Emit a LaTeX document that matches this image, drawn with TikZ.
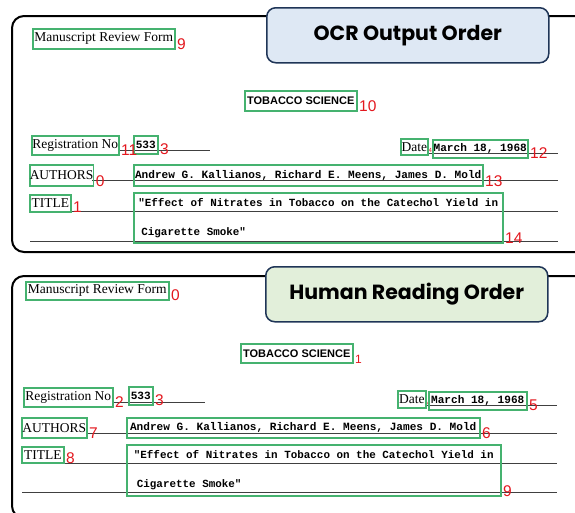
\documentclass[tikz,border=0pt]{standalone}
\usepackage{fontspec}
\setmainfont{Liberation Serif}
\newfontfamily\headfont{Poppins}
\newfontfamily\typefont{Liberation Mono}
\newfontfamily\numfont{Liberation Sans}
\usetikzlibrary{positioning}
\definecolor{boxgreen}{HTML}{45B26F}
\definecolor{numred}{HTML}{E3171E}
\definecolor{navy}{HTML}{1F3557}
\definecolor{headblue}{HTML}{DEE8F4}
\definecolor{headgreen}{HTML}{E2EFDA}

\begin{document}
\begin{tikzpicture}[x=1pt,y=-1pt,
    panel/.style = {draw, line width=2pt, rounded corners=12pt},
    header/.style = {draw=navy, line width=1.5pt, rounded corners=9pt, minimum width=282pt, minimum height=55pt, anchor=north west, font=\headfont\bfseries\fontsize{20.5}{24}\selectfont},
    field/.style = {draw=boxgreen, line width=1.5pt, inner sep=0pt, anchor=north west},
    serif/.style = {font=\fontsize{13.5}{15}\selectfont},
    typed/.style = {font=\typefont\bfseries\fontsize{11.1}{12}\selectfont},
    titled/.style = {align=left, font=\typefont\bfseries\fontsize{10.9}{29}\selectfont},
    journal/.style = {font=\numfont\bfseries\fontsize{11}{12}\selectfont},
    num/.style = {text=numred, inner sep=0pt, anchor=south west, xshift=1.5pt, font=\numfont\fontsize{15.5}{15}\selectfont},
    rule/.style = {draw=black!75, line width=0.8pt}]
\useasboundingbox (0,0) rectangle (575,512);
\begin{scope}
\clip (0,0) rectangle (575,512);
\draw[panel] (600,16) -- (12,16) -- (12,252) -- (600,252);
\draw[panel] (600,276) -- (12,276) -- (12,518) -- (600,518);

\draw[rule] (118,150) -- (210,150);
\draw[rule] (427,153) -- (558,153);
\draw[rule] (92,180) -- (558,180);
\draw[rule] (70,211) -- (558,211);
\draw[rule] (30,241) -- (558,241);

\draw[rule] (112,402) -- (205,402);
\draw[rule] (425,405) -- (557,405);
\draw[rule] (86,433) -- (557,433);
\draw[rule] (63,463) -- (557,463);
\draw[rule] (22,492) -- (557,492);

\node[header, fill=headblue] (OcrHeader) at (266,7) {OCR Output Order};
\node[header, fill=headgreen] (HumanHeader) at (265,266) {Human Reading Order};

\node[field, serif, minimum width=142pt, minimum height=20pt] (OcrForm) at (32,28) {Manuscript Review Form};
\node[field, journal, minimum width=112pt, minimum height=20pt] (OcrJournal) at (244,90) {TOBACCO SCIENCE};
\node[field, serif, minimum width=87pt, minimum height=19pt] (OcrRegLabel) at (31,135) {Registration No};
\node[field, typed, minimum width=24pt, minimum height=18pt] (OcrRegNo) at (133,135) {533};
\node[num, font=\numfont\fontsize{6}{6}\selectfont] (OcrDateNum) at (427,153) {4};
\node[field, serif, minimum width=27pt, minimum height=16pt] (OcrDate) at (400,138) {Date};
\node[field, typed, minimum width=95pt, minimum height=18pt] (OcrMarch) at (432,139) {March 18, 1968};
\node[field, serif, minimum width=63pt, minimum height=21pt] (OcrAuthLabel) at (29,164) {AUTHORS};
\node[field, typed, minimum width=349pt, minimum height=21pt] (OcrAuthors) at (133,164) {Andrew G. Kallianos, Richard E. Meens, James D. Mold};
\node[field, serif, minimum width=41pt, minimum height=17pt] (OcrTitleLabel) at (29,194) {TITLE};
\node[field, titled, minimum width=369pt, minimum height=50pt] (OcrTitle) at (133,192) {"Effect of Nitrates in Tobacco on the Catechol Yield in\\\hspace*{3pt}Cigarette Smoke"};

\node[num] at (OcrForm.south east) {9};
\node[num] at (OcrJournal.south east) {10};
\node[num] at (OcrRegLabel.south east) {11};
\node[num] at (OcrRegNo.south east) {3};
\node[num] at (OcrMarch.south east) {12};
\node[num] at (OcrAuthLabel.south east) {0};
\node[num] at (OcrAuthors.south east) {13};
\node[num] at (OcrTitleLabel.south east) {1};
\node[num] at (OcrTitle.south east) {14};

\node[field, serif, minimum width=143pt, minimum height=18pt] (HumanForm) at (25,281) {Manuscript Review Form};
\node[field, journal, minimum width=112pt, minimum height=19pt] (HumanJournal) at (240,343) {TOBACCO SCIENCE};
\node[field, serif, minimum width=89pt, minimum height=19pt] (HumanRegLabel) at (23,387) {Registration No};
\node[field, typed, minimum width=24pt, minimum height=18pt] (HumanRegNo) at (128,386) {533};
\node[num, font=\numfont\fontsize{6}{6}\selectfont] (HumanDateNum) at (425,406) {4};
\node[field, serif, minimum width=28pt, minimum height=17pt] (HumanDate) at (397,390) {Date};
\node[field, typed, minimum width=98pt, minimum height=18pt] (HumanMarch) at (428,391) {March 18, 1968};
\node[field, serif, minimum width=65pt, minimum height=20pt] (HumanAuthLabel) at (21,417) {AUTHORS};
\node[field, typed, minimum width=353pt, minimum height=20pt] (HumanAuthors) at (126,417) {Andrew G. Kallianos, Richard E. Meens, James D. Mold};
\node[field, serif, minimum width=42pt, minimum height=16pt] (HumanTitleLabel) at (21,446) {TITLE};
\node[field, titled, minimum width=374pt, minimum height=51pt] (HumanTitle) at (126,444) {"Effect of Nitrates in Tobacco on the Catechol Yield in\\\hspace*{3pt}Cigarette Smoke"};

\node[num] at (HumanForm.south east) {0};
\node[num, font=\numfont\fontsize{12}{12}\selectfont] at (HumanJournal.south east) {1};
\node[num] at (HumanRegLabel.south east) {2};
\node[num] at (HumanRegNo.south east) {3};
\node[num] at (HumanMarch.south east) {5};
\node[num] at (HumanAuthors.south east) {6};
\node[num] at (HumanAuthLabel.south east) {7};
\node[num] at (HumanTitleLabel.south east) {8};
\node[num] at (HumanTitle.south east) {9};
\end{scope}
\end{tikzpicture}
\end{document}
